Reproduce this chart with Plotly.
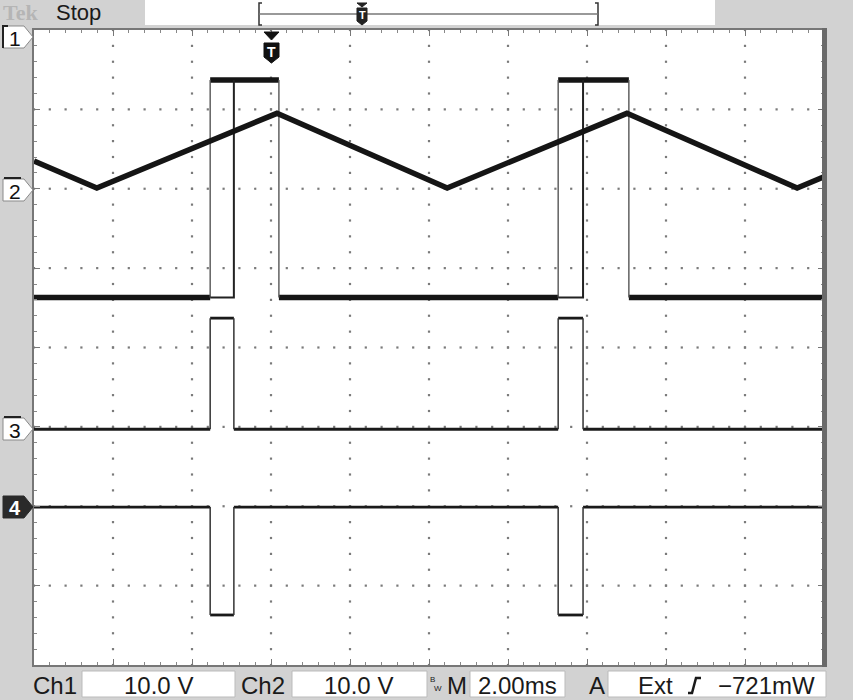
import plotly.graph_objects as go

# ---------------- data (time in ms, vertical in screen divisions from centre) ----------------
tri_t = [0.0, 1.59, 6.15, 10.46, 15.01, 19.32, 20.0]
tri_v = [2.35, 2.01, 2.95, 2.01, 2.95, 2.01, 2.15]

pulse_start = [4.46, 13.27]     # rising edge of ch1 / ch3 / ch4 pulses
pulse_end34 = [5.06, 13.90]     # end of ch3 / ch4 pulses
ch1_fall = [6.20, 15.06]        # falling edge of ch1

ch1_low, ch1_high = 0.63, 3.37
ch3_base, ch3_high = -1.03, 0.37
ch4_base, ch4_low = -2.01, -3.37

T_END = 20.0

# ---------------- geometry helpers ----------------
W, H = 853, 700
L, R, TOP, BOT = 34, 824, 30, 665


def px(x):
    return (x - L) / (R - L)


def py(y):
    return (BOT - y) / (BOT - TOP)


def square(starts, ends, base, level):
    hx, hy, vx, vy = [], [], [], []
    prev = 0.0
    for s, e in zip(starts, ends):
        hx += [prev, s, None, s, e, None]
        hy += [base, base, None, level, level, None]
        vx += [s, s, None, e, e, None]
        vy += [base, level, None, level, base, None]
        prev = e
    hx += [prev, T_END]
    hy += [base, base]
    return hx, hy, vx, vy


fig = go.Figure()

# graticule dots
gx, gy = [], []
for i in range(1, 10):
    for k in range(0, 41):
        gx.append(i * 2.0)
        gy.append(-4 + k * 0.2)
for j in range(-3, 4):
    for k in range(0, 51):
        gx.append(k * 0.4)
        gy.append(j)
fig.add_trace(go.Scatter(x=gx, y=gy, mode="markers",
                         marker=dict(symbol="square", size=2.2, color="#7a7a7a"),
                         hoverinfo="skip", showlegend=False))

# ch1
hx, hy, vx, vy = square(pulse_start, ch1_fall, ch1_low, ch1_high)
fig.add_trace(go.Scatter(x=hx, y=hy, mode="lines", line=dict(color="#151515", width=5.5),
                         showlegend=False, hoverinfo="skip"))
fig.add_trace(go.Scatter(x=vx, y=vy, mode="lines", line=dict(color="#555555", width=1.4),
                         showlegend=False, hoverinfo="skip"))
ex, ey = [], []
for s, m in zip(pulse_start, pulse_end34):
    ex += [s, m, m, None]
    ey += [ch1_low, ch1_low, ch1_high, None]
fig.add_trace(go.Scatter(x=ex, y=ey, mode="lines", line=dict(color="#222222", width=2),
                         showlegend=False, hoverinfo="skip"))

# ch2 triangle
fig.add_trace(go.Scatter(x=tri_t, y=tri_v, mode="lines", line=dict(color="#151515", width=5.5),
                         showlegend=False, hoverinfo="skip"))

# ch3
hx, hy, vx, vy = square(pulse_start, pulse_end34, ch3_base, ch3_high)
fig.add_trace(go.Scatter(x=hx, y=hy, mode="lines", line=dict(color="#1a1a1a", width=2.8),
                         showlegend=False, hoverinfo="skip"))
fig.add_trace(go.Scatter(x=vx, y=vy, mode="lines", line=dict(color="#333333", width=1.5),
                         showlegend=False, hoverinfo="skip"))

# ch4
hx, hy, vx, vy = square(pulse_start, pulse_end34, ch4_base, ch4_low)
fig.add_trace(go.Scatter(x=hx, y=hy, mode="lines", line=dict(color="#1a1a1a", width=2.8),
                         showlegend=False, hoverinfo="skip"))
fig.add_trace(go.Scatter(x=vx, y=vy, mode="lines", line=dict(color="#333333", width=1.5),
                         showlegend=False, hoverinfo="skip"))

shapes = []
ann = []


def rect(x0, y0, x1, y1, fill, line="rgba(0,0,0,0)", lw=0):
    shapes.append(dict(type="rect", xref="paper", yref="paper", x0=px(x0), x1=px(x1),
                       y0=py(y1), y1=py(y0), fillcolor=fill, line=dict(color=line, width=lw),
                       layer="above"))


def path(points, fill, line="rgba(0,0,0,0)", lw=0, close=True):
    d = "M " + " L ".join(f"{px(a):.5f},{py(b):.5f}" for a, b in points)
    if close:
        d += " Z"
    shapes.append(dict(type="path", xref="paper", yref="paper", path=d,
                       fillcolor=fill, line=dict(color=line, width=lw), layer="above"))


def text(x, y, s, size=24, color="#1a1a1a", anchor="center", family="Liberation Sans, Arial, sans-serif"):
    ann.append(dict(xref="paper", yref="paper", x=px(x), y=py(y), text=s, showarrow=False,
                    xanchor=anchor, yanchor="middle",
                    font=dict(size=size, color=color, family=family)))


# right border bar
rect(822, 28, 827, 667, "#6a6a6a")

# top bar
rect(145, 0, 715, 25, "#ffffff")
text(1, 13, "<b>Tek</b>", size=22, color="#b5b5b5", anchor="left",
     family="Liberation Serif, Times New Roman, serif")
text(54, 13, "Stop", size=22, anchor="left")
# record bracket
path([(262, 3), (259, 3), (259, 25), (262, 25)], "rgba(0,0,0,0)", "#333333", 1.5, close=False)
path([(595, 3), (598, 3), (598, 25), (595, 25)], "rgba(0,0,0,0)", "#333333", 1.5, close=False)
path([(259, 14), (598, 14)], "rgba(0,0,0,0)", "#777777", 1.5, close=False)
path([(357, 3), (367, 3), (362, 7)], "#222222", "#222222", 1)
path([(357, 8), (367, 8), (367, 21), (362, 25), (357, 21)], "#222222", "#222222", 1)
text(362, 15, "<b>T</b>", size=11, color="#ffffff")

# trigger marker on graticule
path([(264, 32), (279, 32), (271.5, 40)], "#111111", "#111111", 1)
path([(264, 43), (279, 43), (279, 57), (271.5, 63), (264, 57)], "#111111", "#111111", 1)
text(271.5, 52, "<b>T</b>", size=14, color="#ffffff")


# channel markers
def marker(yc, label, dark=False, overline=False, bracket=False):
    pts = [(3, yc - 11), (24, yc - 11), (33, yc), (24, yc + 11), (3, yc + 11)]
    if dark:
        path(pts, "#2a2a2a", "#2a2a2a", 1)
        text(15, yc + 1, "<b>" + label + "</b>", size=20, color="#ffffff")
    else:
        path(pts, "#ffffff", "#8a8a8a", 1)
        text(15, yc + 1, label, size=21, color="#111111")
    if overline:
        path([(4, yc - 12), (21, yc - 12)], "rgba(0,0,0,0)", "#222222", 2, close=False)
    if bracket:
        path([(8, yc - 11), (3, yc - 11), (3, yc + 11)], "rgba(0,0,0,0)", "#222222", 2, close=False)


marker(37, "1", bracket=True)
marker(190, "2", overline=True)
marker(429, "3", overline=True)
marker(507, "4", dark=True)

# bottom bar
rect(82, 671, 235, 697, "#ffffff", "#bbbbbb", 1)
rect(292, 671, 427, 697, "#ffffff", "#bbbbbb", 1)
rect(470, 671, 565, 697, "#ffffff", "#bbbbbb", 1)
rect(608, 671, 826, 697, "#ffffff", "#bbbbbb", 1)
text(55, 685, "Ch1", size=24)
text(158, 685, "10.0 V", size=24)
text(263, 685, "Ch2", size=24)
text(358, 685, "10.0 V", size=24)
text(432, 679, "B", size=8)
text(438, 688, "W", size=8)
text(457, 685, "M", size=24)
text(517, 685, "2.00ms", size=24)
text(597, 685, "A", size=24)
text(655, 685, "Ext", size=24)
path([(688, 693), (692, 693), (696, 678), (701, 678)], "rgba(0,0,0,0)", "#1a1a1a", 2.5, close=False)
text(766, 685, "\u2212721mW", size=24)

axis_common = dict(showgrid=False, zeroline=False, showticklabels=False,
                   showline=True, mirror="allticks", linecolor="#777777", linewidth=1.5,
                   ticks="inside", ticklen=6, tickcolor="#777777", tickwidth=1,
                   fixedrange=True)

fig.update_layout(
    width=W, height=H,
    margin=dict(l=L, r=W - R, t=TOP, b=H - BOT),
    paper_bgcolor="#d2d2d2", plot_bgcolor="#ffffff",
    xaxis=dict(range=[0, 20], dtick=2, tick0=0,
               minor=dict(ticks="inside", dtick=0.4, ticklen=3, tickcolor="#888888"),
               **axis_common),
    yaxis=dict(range=[-4, 4], dtick=1, tick0=0,
               minor=dict(ticks="inside", dtick=0.2, ticklen=3, tickcolor="#888888"),
               **axis_common),
    shapes=shapes, annotations=ann, showlegend=False,
)

fig.write_html("out.html", config={"displayModeBar": False},
               post_script="document.body.style.margin='0';document.body.style.overflow='hidden';")
